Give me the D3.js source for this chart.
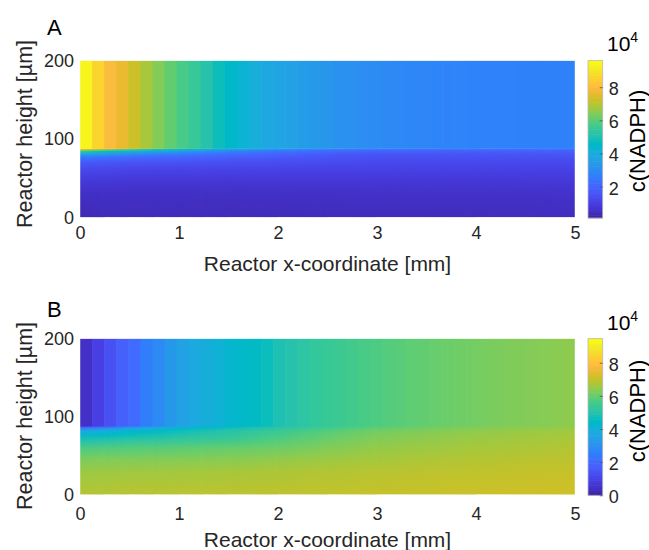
<!DOCTYPE html>
<html>
<head>
<meta charset="utf-8">
<script src="https://cdn.jsdelivr.net/npm/d3@7"></script>
<style>
  body { margin: 0; background: #fff; }
  svg { display: block; }
  text { font-family: "Liberation Sans", Arial, Helvetica, sans-serif; }
</style>
</head>
<body>
<svg id="chart" width="649" height="550"></svg>
<script>
// ---------------- data ----------------
// concentrations in units of 10^4

const xTicks = [0, 1, 2, 3, 4, 5];          // reactor x-coordinate [mm]
const yTicks = [0, 100, 200];               // reactor height [µm]
const cbTicksA = [2, 4, 6, 8];
const cbTicksB = [0, 2, 4, 6, 8];
const colorRangeA = [0.1, 9.6];
const colorRangeB = [0, 9.45];

const interfaceHeight = 87.5;               // µm, phase boundary

// upper phase: one value per mesh column (41 equal columns over 0–5 mm)
const upperA = [9.45, 8.65, 8.0, 7.7, 7.27, 6.85, 6.45, 6.1, 5.8, 5.5,
                5.15, 4.8, 4.5, 4.25, 4.05, 3.85, 3.7, 3.6, 3.45, 3.35,
                3.25, 3.15, 3.08, 3.0, 2.95, 2.9, 2.86, 2.82, 2.8, 2.77,
                2.75, 2.73, 2.71, 2.7, 2.69, 2.68, 2.67, 2.66, 2.66, 2.65, 2.65];
const upperB = [0.38, 0.85, 1.3, 1.7, 2.0, 2.45, 2.8, 3.2, 3.5, 3.75,
                3.95, 4.1, 4.25, 4.4, 4.5, 4.65, 4.85, 5.0, 5.15, 5.3,
                5.4, 5.5, 5.58, 5.66, 5.73, 5.8, 5.87, 5.93, 5.98, 6.03,
                6.08, 6.12, 6.17, 6.21, 6.25, 6.28, 6.3, 6.33, 6.36, 6.4, 6.43];

// lower phase: vertical profiles at several x stations
const lowerStations = [0, 0.25, 0.5, 0.75, 1, 1.25, 1.5, 2, 2.5, 3, 4, 5];      // mm
const lowerHeights  = [87.5, 86, 84, 81, 77, 70, 60, 45, 28, 0];              // µm
const lowerA = [
  [8.4, 7.2, 5.3, 4.0, 2.5, 1.6, 1.15, 0.72, 0.45, 0.2],
  [7.4, 6.3, 4.7, 3.5, 2.3, 1.55, 1.1, 0.7, 0.45, 0.32],
  [6.4, 5.4, 4.1, 3.1, 2.1, 1.5, 1.05, 0.68, 0.45, 0.33],
  [5.6, 4.8, 3.7, 2.8, 2.0, 1.47, 1.04, 0.68, 0.45, 0.33],
  [4.9, 4.2, 3.4, 2.6, 1.95, 1.45, 1.03, 0.68, 0.45, 0.33],
  [4.3, 3.7, 3.0, 2.4, 1.88, 1.42, 1.02, 0.68, 0.46, 0.33],
  [3.9, 3.3, 2.7, 2.2, 1.8, 1.38, 1.0, 0.68, 0.46, 0.33],
  [3.3, 2.8, 2.3, 1.95, 1.65, 1.3, 1.0, 0.68, 0.47, 0.33],
  [2.9, 2.4, 2.0, 1.7, 1.5, 1.25, 0.98, 0.69, 0.48, 0.34],
  [2.6, 2.15, 1.8, 1.55, 1.4, 1.2, 0.98, 0.7, 0.5, 0.34],
  [2.45, 2.05, 1.75, 1.55, 1.4, 1.2, 0.98, 0.71, 0.5, 0.36],
  [2.4, 2.0, 1.75, 1.55, 1.4, 1.2, 0.98, 0.72, 0.52, 0.38]
];
const lowerB = [
  [1.2, 2.0, 2.9, 3.8, 4.25, 4.9, 5.7, 6.25, 6.6, 6.85],
  [1.8, 2.5, 3.3, 4.0, 4.4, 5.0, 5.75, 6.3, 6.62, 6.87],
  [2.6, 3.2, 3.8, 4.3, 4.6, 5.15, 5.8, 6.3, 6.65, 6.9],
  [3.2, 3.6, 4.1, 4.5, 4.75, 5.25, 5.85, 6.32, 6.66, 6.9],
  [3.8, 4.1, 4.4, 4.7, 4.9, 5.35, 5.9, 6.35, 6.68, 6.92],
  [4.15, 4.4, 4.65, 4.9, 5.05, 5.42, 5.95, 6.37, 6.7, 6.93],
  [4.45, 4.65, 4.85, 5.05, 5.2, 5.5, 6.0, 6.4, 6.72, 6.95],
  [5.0, 5.15, 5.3, 5.45, 5.6, 5.8, 6.1, 6.5, 6.78, 6.98],
  [5.45, 5.55, 5.7, 5.82, 5.95, 6.1, 6.3, 6.6, 6.84, 7.01],
  [5.85, 5.95, 6.05, 6.15, 6.25, 6.35, 6.5, 6.7, 6.9, 7.05],
  [6.25, 6.33, 6.4, 6.47, 6.53, 6.6, 6.7, 6.85, 7.0, 7.12],
  [6.5, 6.55, 6.6, 6.65, 6.7, 6.75, 6.85, 6.95, 7.08, 7.18]
];

// ---------------- colormap (parula, 64 entries) ----------------
const parula = [
  [0.2422,0.1504,0.6603],[0.2504,0.1650,0.7076],[0.2578,0.1818,0.7511],[0.2647,0.1978,0.7952],
  [0.2706,0.2147,0.8364],[0.2751,0.2342,0.8710],[0.2783,0.2559,0.8991],[0.2803,0.2782,0.9221],
  [0.2813,0.3006,0.9414],[0.2810,0.3228,0.9579],[0.2795,0.3447,0.9717],[0.2760,0.3667,0.9829],
  [0.2699,0.3892,0.9906],[0.2602,0.4123,0.9952],[0.2440,0.4358,0.9988],[0.2206,0.4603,0.9973],
  [0.1963,0.4847,0.9892],[0.1834,0.5074,0.9798],[0.1786,0.5289,0.9682],[0.1764,0.5499,0.9520],
  [0.1687,0.5703,0.9359],[0.1540,0.5902,0.9218],[0.1460,0.6091,0.9079],[0.1380,0.6276,0.8973],
  [0.1248,0.6459,0.8883],[0.1113,0.6635,0.8763],[0.0952,0.6798,0.8598],[0.0689,0.6948,0.8394],
  [0.0297,0.7082,0.8163],[0.0036,0.7203,0.7917],[0.0067,0.7312,0.7660],[0.0433,0.7411,0.7394],
  [0.0964,0.7500,0.7120],[0.1408,0.7584,0.6842],[0.1717,0.7670,0.6554],[0.1938,0.7758,0.6251],
  [0.2161,0.7843,0.5923],[0.2470,0.7918,0.5567],[0.2906,0.7973,0.5188],[0.3406,0.8008,0.4789],
  [0.3909,0.8029,0.4354],[0.4456,0.8024,0.3909],[0.5044,0.7993,0.3480],[0.5616,0.7942,0.3045],
  [0.6174,0.7876,0.2612],[0.6720,0.7793,0.2227],[0.7242,0.7698,0.1910],[0.7738,0.7598,0.1646],
  [0.8203,0.7498,0.1535],[0.8634,0.7406,0.1596],[0.9035,0.7330,0.1774],[0.9393,0.7288,0.2100],
  [0.9728,0.7298,0.2394],[0.9956,0.7434,0.2371],[0.9970,0.7659,0.2199],[0.9952,0.7893,0.2028],
  [0.9892,0.8136,0.1885],[0.9786,0.8386,0.1766],[0.9676,0.8639,0.1643],[0.9610,0.8890,0.1537],
  [0.9597,0.9135,0.1423],[0.9628,0.9373,0.1265],[0.9691,0.9606,0.1064],[0.9769,0.9839,0.0805]
].map(c => d3.rgb(c[0] * 255, c[1] * 255, c[2] * 255).formatHex());
const parulaInterp = d3.piecewise(d3.interpolateRgb, parula);

// ---------------- layout ----------------
const svg = d3.select("#chart");
const defs = svg.append("defs");
const plotLeft = 80, plotRight = 575;
const cbLeft = 588, cbWidth = 14.7;
const tickColor = "#262626";
const tickFont = 18;

const panels = [
  { id: "A", upper: upperA, lower: lowerA, cRange: colorRangeA, cTicks: cbTicksA,
    top: 60.5, bottom: 217.5, letterY: 35, yLabelY: 134, xTickPad: 8.5, xLabelY: 271,
    cbTop: 60.7, cbBottom: 218, cbLabelY: 141, expY: 50.7 },
  { id: "B", upper: upperB, lower: lowerB, cRange: colorRangeB, cTicks: cbTicksB,
    top: 338.5, bottom: 494.8, letterY: 317, yLabelY: 416, xTickPad: 12, xLabelY: 547,
    cbTop: 338.7, cbBottom: 495.3, cbLabelY: 411, expY: 330 }
];

panels.forEach(drawPanel);

function drawPanel(p) {
  const x = d3.scaleLinear().domain([0, 5]).range([plotLeft, plotRight]);
  const y = d3.scaleLinear().domain([0, 200]).range([p.bottom, p.top]);
  const color = d3.scaleSequential(parulaInterp).domain(p.cRange).clamp(true);

  const clipId = "clip" + p.id;
  defs.append("clipPath").attr("id", clipId)
    .append("rect")
    .attr("x", x(0)).attr("y", y(200))
    .attr("width", x(5) - x(0)).attr("height", y(0) - y(200));

  const g = svg.append("g").attr("clip-path", `url(#${clipId})`);

  // lower phase: a vertical colour ramp per station, blended linearly
  // across x into the previous station (interpolated shading)
  const st = lowerStations;
  const yTopL = y(interfaceHeight) - 0.5;
  const hL = y(0) - y(interfaceHeight) + 0.5;
  p.lower.forEach((profile, i) => {
    const gid = `grad${p.id}${i}`;
    const grad = defs.append("linearGradient").attr("id", gid)
      .attr("gradientUnits", "userSpaceOnUse")
      .attr("x1", 0).attr("x2", 0)
      .attr("y1", y(interfaceHeight)).attr("y2", y(0));
    const span = y(0) - y(interfaceHeight);
    profile.forEach((v, k) => {
      grad.append("stop")
        .attr("offset", (y(lowerHeights[k]) - y(interfaceHeight)) / span)
        .attr("stop-color", color(v));
    });

    const xa = i === 0 ? st[0] : st[i - 1];
    const xb = i === st.length - 1 ? 5 : st[i + 1];
    const r = g.append("rect")
      .attr("x", x(xa))
      .attr("width", x(xb) - x(xa))
      .attr("y", yTopL)
      .attr("height", hL)
      .attr("fill", `url(#${gid})`);

    if (i > 0) {
      const fid = `fade${p.id}${i}`;
      const fg = defs.append("linearGradient").attr("id", fid)
        .attr("gradientUnits", "userSpaceOnUse")
        .attr("x1", x(st[i - 1])).attr("x2", x(st[i]))
        .attr("y1", 0).attr("y2", 0);
      fg.append("stop").attr("offset", 0).attr("stop-color", "#000");
      fg.append("stop").attr("offset", 1).attr("stop-color", "#fff");
      const mid = `mask${p.id}${i}`;
      defs.append("mask").attr("id", mid)
        .attr("maskUnits", "userSpaceOnUse")
        .attr("x", x(xa)).attr("y", yTopL)
        .attr("width", x(xb) - x(xa)).attr("height", hL)
        .append("rect")
        .attr("x", x(xa)).attr("y", yTopL)
        .attr("width", x(xb) - x(xa)).attr("height", hL)
        .attr("fill", `url(#${fid})`);
      r.attr("mask", `url(#${mid})`);
    }
  });

  // upper phase: flat-shaded mesh columns
  const colW = 5 / p.upper.length;
  g.selectAll("rect.upper").data(p.upper).join("rect")
    .attr("class", "upper")
    .attr("x", (d, i) => x(i * colW))
    .attr("width", (d, i) => x((i + 1) * colW) - x(i * colW) + (i < p.upper.length - 1 ? 0.6 : 0))
    .attr("y", y(200))
    .attr("height", y(interfaceHeight) - y(200))
    .attr("fill", d => color(d));

  // axes box
  svg.append("rect")
    .attr("x", x(0)).attr("y", y(200))
    .attr("width", x(5) - x(0)).attr("height", y(0) - y(200))
    .attr("fill", "none").attr("stroke", "#ffffff").attr("stroke-opacity", 0.45);

  // x axis
  const xax = svg.append("g").attr("transform", `translate(0,${p.bottom})`)
    .call(d3.axisBottom(x).tickValues(xTicks).tickFormat(d3.format("d"))
      .tickSize(0).tickPadding(p.xTickPad));
  xax.select(".domain").remove();
  xax.selectAll("text").attr("fill", tickColor).attr("font-size", tickFont)
    .attr("font-family", '"Liberation Sans", Arial, sans-serif');

  // y axis
  const yax = svg.append("g").attr("transform", `translate(${plotLeft},0)`)
    .call(d3.axisLeft(y).tickValues(yTicks).tickFormat(d3.format("d"))
      .tickSize(0).tickPadding(6));
  yax.select(".domain").remove();
  yax.selectAll("text").attr("fill", tickColor).attr("font-size", tickFont)
    .attr("font-family", '"Liberation Sans", Arial, sans-serif');

  // axis titles
  svg.append("text")
    .attr("x", (x(0) + x(5)) / 2).attr("y", p.xLabelY)
    .attr("text-anchor", "middle").attr("font-size", 21).attr("fill", tickColor)
    .text("Reactor x-coordinate [mm]");
  svg.append("text")
    .attr("transform", `translate(32,${p.yLabelY}) rotate(-90)`)
    .attr("text-anchor", "middle").attr("font-size", 21.5).attr("fill", tickColor)
    .text("Reactor height [µm]");

  // panel letter
  svg.append("text")
    .attr("x", 47).attr("y", p.letterY)
    .attr("font-size", 22).attr("fill", "#000")
    .text(p.id);

  // colorbar
  const cy = d3.scaleLinear().domain(p.cRange).range([p.cbBottom, p.cbTop]);
  const nSteps = parula.length;
  const stepH = (p.cRange[1] - p.cRange[0]) / nSteps;
  const stepVals = d3.range(nSteps).map(i => p.cRange[0] + stepH * i);
  svg.append("g").selectAll("rect").data(stepVals).join("rect")
    .attr("x", cbLeft).attr("width", cbWidth)
    .attr("y", d => cy(d + stepH) - 0.3)
    .attr("height", d => cy(d) - cy(d + stepH) + 0.6)
    .attr("fill", (d, i) => parula[i]);
  svg.append("rect")
    .attr("x", cbLeft).attr("y", p.cbTop)
    .attr("width", cbWidth).attr("height", p.cbBottom - p.cbTop)
    .attr("fill", "none").attr("stroke", "#b8b8b8").attr("stroke-width", 0.8);

  const cax = svg.append("g").attr("transform", `translate(${cbLeft + cbWidth},0)`)
    .call(d3.axisRight(cy).tickValues(p.cTicks).tickFormat(d3.format("d"))
      .tickSize(-3).tickPadding(6));
  cax.select(".domain").remove();
  cax.selectAll("line").attr("stroke", "#555").attr("stroke-width", 0.8);
  cax.selectAll("text").attr("fill", tickColor).attr("font-size", tickFont)
    .attr("dy", "0.42em")
    .attr("font-family", '"Liberation Sans", Arial, sans-serif');

  // colorbar title and exponent
  svg.append("text")
    .attr("transform", `translate(644.5,${p.cbLabelY}) rotate(-90)`)
    .attr("text-anchor", "middle").attr("font-size", 22).attr("fill", "#000")
    .text("c(NADPH)");
  const ex = svg.append("text")
    .attr("x", 607).attr("y", p.expY)
    .attr("font-size", 21).attr("fill", "#000");
  ex.append("tspan").text("10");
  ex.append("tspan").attr("dy", -9).attr("font-size", 14).text("4");
}
</script>
</body>
</html>
